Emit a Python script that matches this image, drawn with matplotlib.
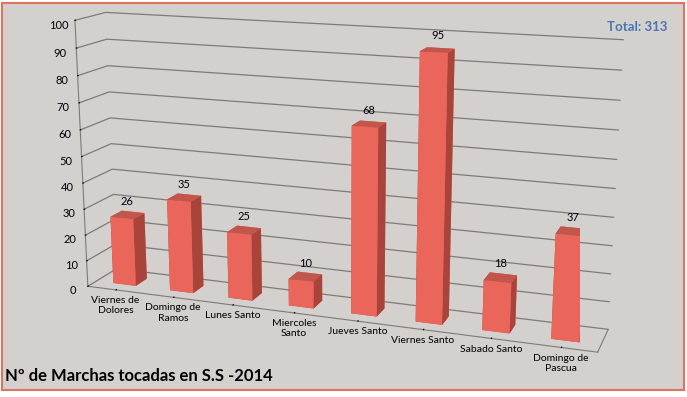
import numpy as np
import matplotlib.pyplot as plt
from matplotlib.patches import Rectangle

plt.rcParams['font.family'] = ['Lato', 'DejaVu Sans']

categories = ['Viernes de\nDolores', 'Domingo de\nRamos', 'Lunes Santo', 'Miercoles\nSanto',
              'Jueves Santo', 'Viernes Santo', 'Sabado Santo', 'Domingo de\nPascua']
values = [26, 35, 25, 10, 68, 95, 18, 37]
z_ticks = list(range(0, 101, 10))
title = 'Nº de Marchas tocadas en S.S -2014'
total_label = 'Total: 313'

BG = '#d3d0cd'
GRID = '#7d7b79'
# face colours: bottom, top, front, back, left, right
FACES = ['#c44c40', '#c0564c', '#ea665a', '#ea665a', '#b04a40', '#a8443a']

fig = plt.figure(figsize=(6.87, 3.97), dpi=100, facecolor='white')
fig.patches.append(Rectangle((2 / 687, 7 / 397), 682 / 687, 387 / 397, transform=fig.transFigure,
                             facecolor=BG, edgecolor='#e0735f', linewidth=1.5, zorder=-10))

ax = fig.add_axes([-0.13, -0.08, 1.22, 1.26], projection='3d')
ax.set_facecolor((0, 0, 0, 0))
ax.set_proj_type('persp', focal_length=0.5)
ax.view_init(elev=14.5, azim=-70)
ax.set_box_aspect((7.8, 0.9, 4.1), zoom=1.2)

n = len(values)
x = np.arange(n)
bw = 0.4
bd = 0.4
for xi, v in zip(x, values):
    ax.bar3d(xi - bw / 2, 0.5 - bd / 2, 0, bw, bd, v, color=FACES, shade=False, edgecolor='none')
    ax.text(xi, 0.5, v + 3, str(v), ha='center', va='bottom', fontsize=8)

ax.set_xlim(-0.5, n - 0.5)
ax.set_ylim(0, 1)
ax.set_zlim(0, 100)
ax.set_xticks(x)
ax.set_xticklabels(categories, fontsize=7.5)
ax.set_yticks([])
ax.set_zticks(z_ticks)
ax.set_zticklabels([str(t) for t in z_ticks], fontsize=8)
ax.zaxis.set_ticks_position('lower')
ax.tick_params(axis='z', pad=-2)
ax.tick_params(axis='x', pad=-4)

for a in (ax.xaxis, ax.yaxis, ax.zaxis):
    a.set_pane_color((1, 1, 1, 0))
    a.pane.set_edgecolor(GRID)
    a.line.set_color(GRID)
    a._axinfo['tick']['inward_factor'] = 0
    a._axinfo['tick']['outward_factor'] = 0.2
ax.xaxis._axinfo['grid']['color'] = (0, 0, 0, 0)
ax.yaxis._axinfo['grid']['color'] = (0, 0, 0, 0)
ax.zaxis._axinfo['grid']['color'] = GRID
ax.zaxis._axinfo['grid']['linewidth'] = 0.9

fig.text(5 / 687, 1 - 381 / 397, title, fontsize=12, fontweight='bold', ha='left', va='baseline')
fig.text(667 / 687, 1 - 27 / 397, total_label, fontsize=9.5, fontweight='bold', color='#4a76b4',
         ha='right', va='center')

fig.savefig('out.png', dpi=100, facecolor='white')
